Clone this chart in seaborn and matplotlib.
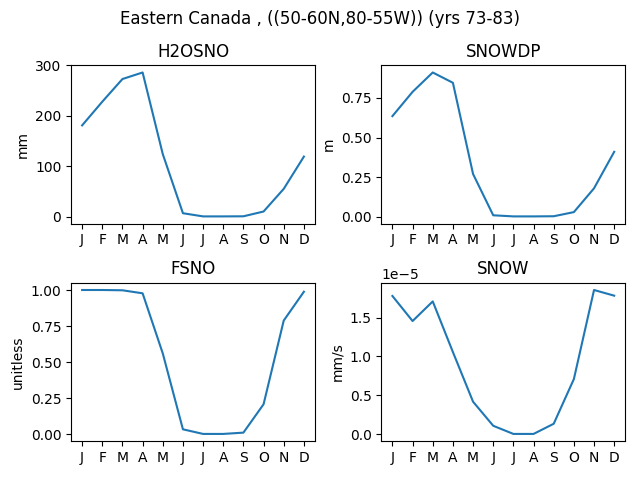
import matplotlib
matplotlib.use("Agg")
import matplotlib.pyplot as plt
from matplotlib.ticker import MultipleLocator
import seaborn as sns

# dados mensais (médias climatológicas)
meses = ['J', 'F', 'M', 'A', 'M', 'J', 'J', 'A', 'S', 'O', 'N', 'D']
idx = list(range(12))

h2osno = [181, 228, 273, 286, 124, 6.6, 0.3, 0.3, 0.5, 10, 55, 119]
snowdp = [0.635, 0.788, 0.91, 0.845, 0.27, 0.01, 0.003, 0.003, 0.004, 0.03, 0.18, 0.41]
fsno = [1.0, 1.0, 0.998, 0.977, 0.56, 0.033, 0.001, 0.001, 0.01, 0.207, 0.788, 0.988]
snow = [1.78e-5, 1.457e-5, 1.71e-5, 1.057e-5, 0.417e-5, 0.107e-5, 0.002e-5, 0.002e-5,
        0.133e-5, 0.709e-5, 1.857e-5, 1.784e-5]

variaveis = ['H2OSNO', 'SNOWDP', 'FSNO', 'SNOW']
unidades = ['mm', 'm', 'unitless', 'mm/s']
series = [h2osno, snowdp, fsno, snow]

fig, axs = plt.subplots(2, 2, figsize=(6.4, 4.8))

for ax, nome, unid, vals in zip(axs.flat, variaveis, unidades, series):
    sns.lineplot(x=idx, y=vals, ax=ax)
    ax.set_title(nome)
    ax.set_ylabel(unid)
    ax.set_xticks(idx)
    ax.set_xticklabels(meses)

axs[0, 1].yaxis.set_major_locator(MultipleLocator(0.25))

fig.suptitle("Eastern Canada , ((50-60N,80-55W)) (yrs 73-83)")
fig.subplots_adjust(left=0.111, right=0.977, top=0.864, bottom=0.081,
                    wspace=0.272, hspace=0.374)
fig.savefig("out.png", dpi=100)
